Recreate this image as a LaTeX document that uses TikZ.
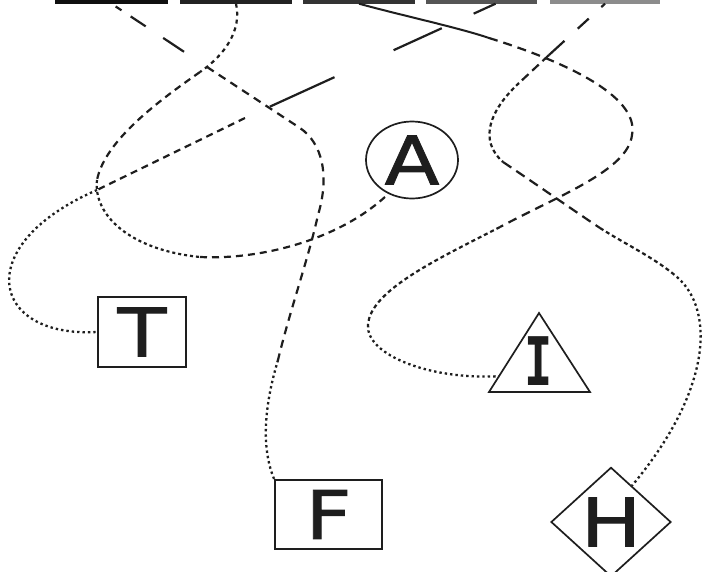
\documentclass[tikz,border=0pt]{standalone}
\usepackage{fontspec}
\newfontfamily\lblfont[FakeStretch=1.2,FakeBold=1.2]{DejaVu Sans}
\newfontfamily\ifont[FakeStretch=0.7]{DejaVu Sans Mono}
\usetikzlibrary{shapes.geometric,calc}
\definecolor{ink}{HTML}{1E1E1E}
\definecolor{barA}{HTML}{101010}
\definecolor{barB}{HTML}{222222}
\definecolor{barC}{HTML}{333333}
\definecolor{barD}{HTML}{555555}
\definecolor{barE}{HTML}{8C8C8C}
\begin{document}
\begin{tikzpicture}[x=1pt,y=-1pt,
  lbl/.style={font=\lblfont\fontsize{67pt}{67pt}\selectfont, inner sep=0pt, text=ink},
  framed/.style={lbl, draw=ink, line width=1.7pt},
  boxn/.style={framed, rectangle},
  elln/.style={framed, ellipse},
  dian/.style={framed, diamond, aspect=1},
  barn/.style={rectangle, draw=none, inner sep=0pt, minimum height=20pt},
  edge/.style={draw=ink, line width=2.2pt, line cap=butt},
  dotln/.style={edge, line width=2.3pt, dash pattern=on 2.4pt off 3pt},
  border/.style={draw=ink, line width=1.7pt}
]
\useasboundingbox (0,0) rectangle (704,571);
\clip (0,0) rectangle (704,571);

% cut-off source nodes along the top edge
\node[barn, fill=barA, minimum width=113pt] (s1) at (111.5,-6.5) {};
\node[barn, fill=barB, minimum width=112pt] (s2) at (236,-6.5) {};
\node[barn, fill=barC, minimum width=112pt] (s3) at (359,-6.5) {};
\node[barn, fill=barD, minimum width=111pt] (s4) at (481.5,-6.5) {};
\node[barn, fill=barE, minimum width=110pt] (s5) at (605,-6.5) {};

% target nodes
\node[elln, minimum width=92pt, minimum height=77pt] (A) at (412,160) {A};
\node[boxn, minimum width=88pt, minimum height=70pt] (T) at (142,332) {T};
\node[boxn, minimum width=107pt, minimum height=69pt] (F) at (328.5,514.5) {F};
\node[dian, minimum width=120pt, minimum height=96pt] (H) at (611,522) {H};
\node[lbl, font=\ifont\bfseries\fontsize{67pt}{67pt}\selectfont] (I) at (539,361) {I};
\coordinate (Itop) at (539,313);
\coordinate (Il) at (489,392);
\coordinate (Ir) at (590,392);
\draw[border] (Itop) -- (Il) -- (Ir) -- cycle;
\coordinate (Iin) at ($(Il)!0.2!(Itop)$);

% curve s1 -> F
\coordinate (c1a) at (207,67);
\coordinate (c1b) at (300,128);
\coordinate (c1c) at (318,215);
\coordinate (c1d) at (278,360);
\draw[edge, dash pattern=on 0pt off 5pt on 7pt off 11pt on 18pt off 21pt on 25pt off 30pt] (s1.south) -- (c1a);
\draw[edge, dash pattern=on 8pt off 6pt] (c1a) -- (c1b) .. controls (322,143) and (330,175) .. (c1c) .. controls (308,260) and (290,310) .. (c1d);
\draw[dotln] (c1d) .. controls (263,410) and (262,450) .. (F.north west);

% curve s2 -> A
\coordinate (c2a) at (200,72);
\coordinate (c2b) at (97,180);
\coordinate (c2c) at (200,257);
\draw[edge, dash pattern=on 4pt off 4pt] (s2.south) .. controls (242,30) and (225,55) .. (c2a);
\draw[edge, dash pattern=on 7pt off 5pt] (c2a) .. controls (160,100) and (105,140) .. (c2b);
\draw[edge, dash pattern=on 3pt off 3pt] (c2b) .. controls (93,215) and (130,250) .. (c2c);
\draw[edge, dash pattern=on 7pt off 5pt] (c2c) .. controls (260,260) and (340,240) .. (A.235);

% curve s4 -> T
\coordinate (c3a) at (245,118);
\coordinate (c3b) at (97,190);
\draw[edge, dash pattern=on 24pt off 35pt on 53pt off 65pt on 71pt off 40pt] ([xshift=14pt]s4.south) -- (c3a);
\draw[edge, dash pattern=on 7pt off 5pt] (c3a) -- (c3b);
\draw[dotln] (c3b) .. controls (-30,245) and (-10,338) .. (T.west);

% curve s3 -> I
\coordinate (c4a) at (489,38);
\coordinate (c4b) at (632,135);
\coordinate (c4c) at (500,227);
\coordinate (c4d) at (368,325);
\draw[edge, line width=2pt] (s3.south) .. controls (400,15) and (460,28) .. (c4a);
\draw[edge, dash pattern=on 9pt off 6pt] (c4a) .. controls (560,60) and (640,95) .. (c4b) .. controls (628,170) and (560,195) .. (c4c);
\draw[edge, dash pattern=on 4pt off 3pt] (c4c) .. controls (440,258) and (370,290) .. (c4d);
\draw[dotln] (c4d) .. controls (366,355) and (430,380) .. (Iin);

% curve s5 -> H
\coordinate (c5a) at (549,55);
\coordinate (c5b) at (519,83);
\coordinate (c5c) at (503,162);
\coordinate (c5d) at (600,228);
\coordinate (c5e) at (677,277);
\draw[edge, dash pattern=on 5pt off 17pt on 15pt off 18pt on 22pt off 5pt] (s5.south) -- (c5a);
\draw[edge, dash pattern=on 9pt off 5pt] (c5a) -- (c5b);
\draw[edge, dash pattern=on 4pt off 3pt] (c5b) .. controls (490,110) and (478,140) .. (c5c);
\draw[edge, dash pattern=on 10pt off 6pt] (c5c) .. controls (530,180) and (570,208) .. (c5d);
\draw[edge, dash pattern=on 4pt off 3pt] (c5d) .. controls (625,244) and (655,258) .. (c5e);
\draw[dotln] (c5e) .. controls (715,310) and (712,390) .. (H.60);
\end{tikzpicture}
\end{document}
